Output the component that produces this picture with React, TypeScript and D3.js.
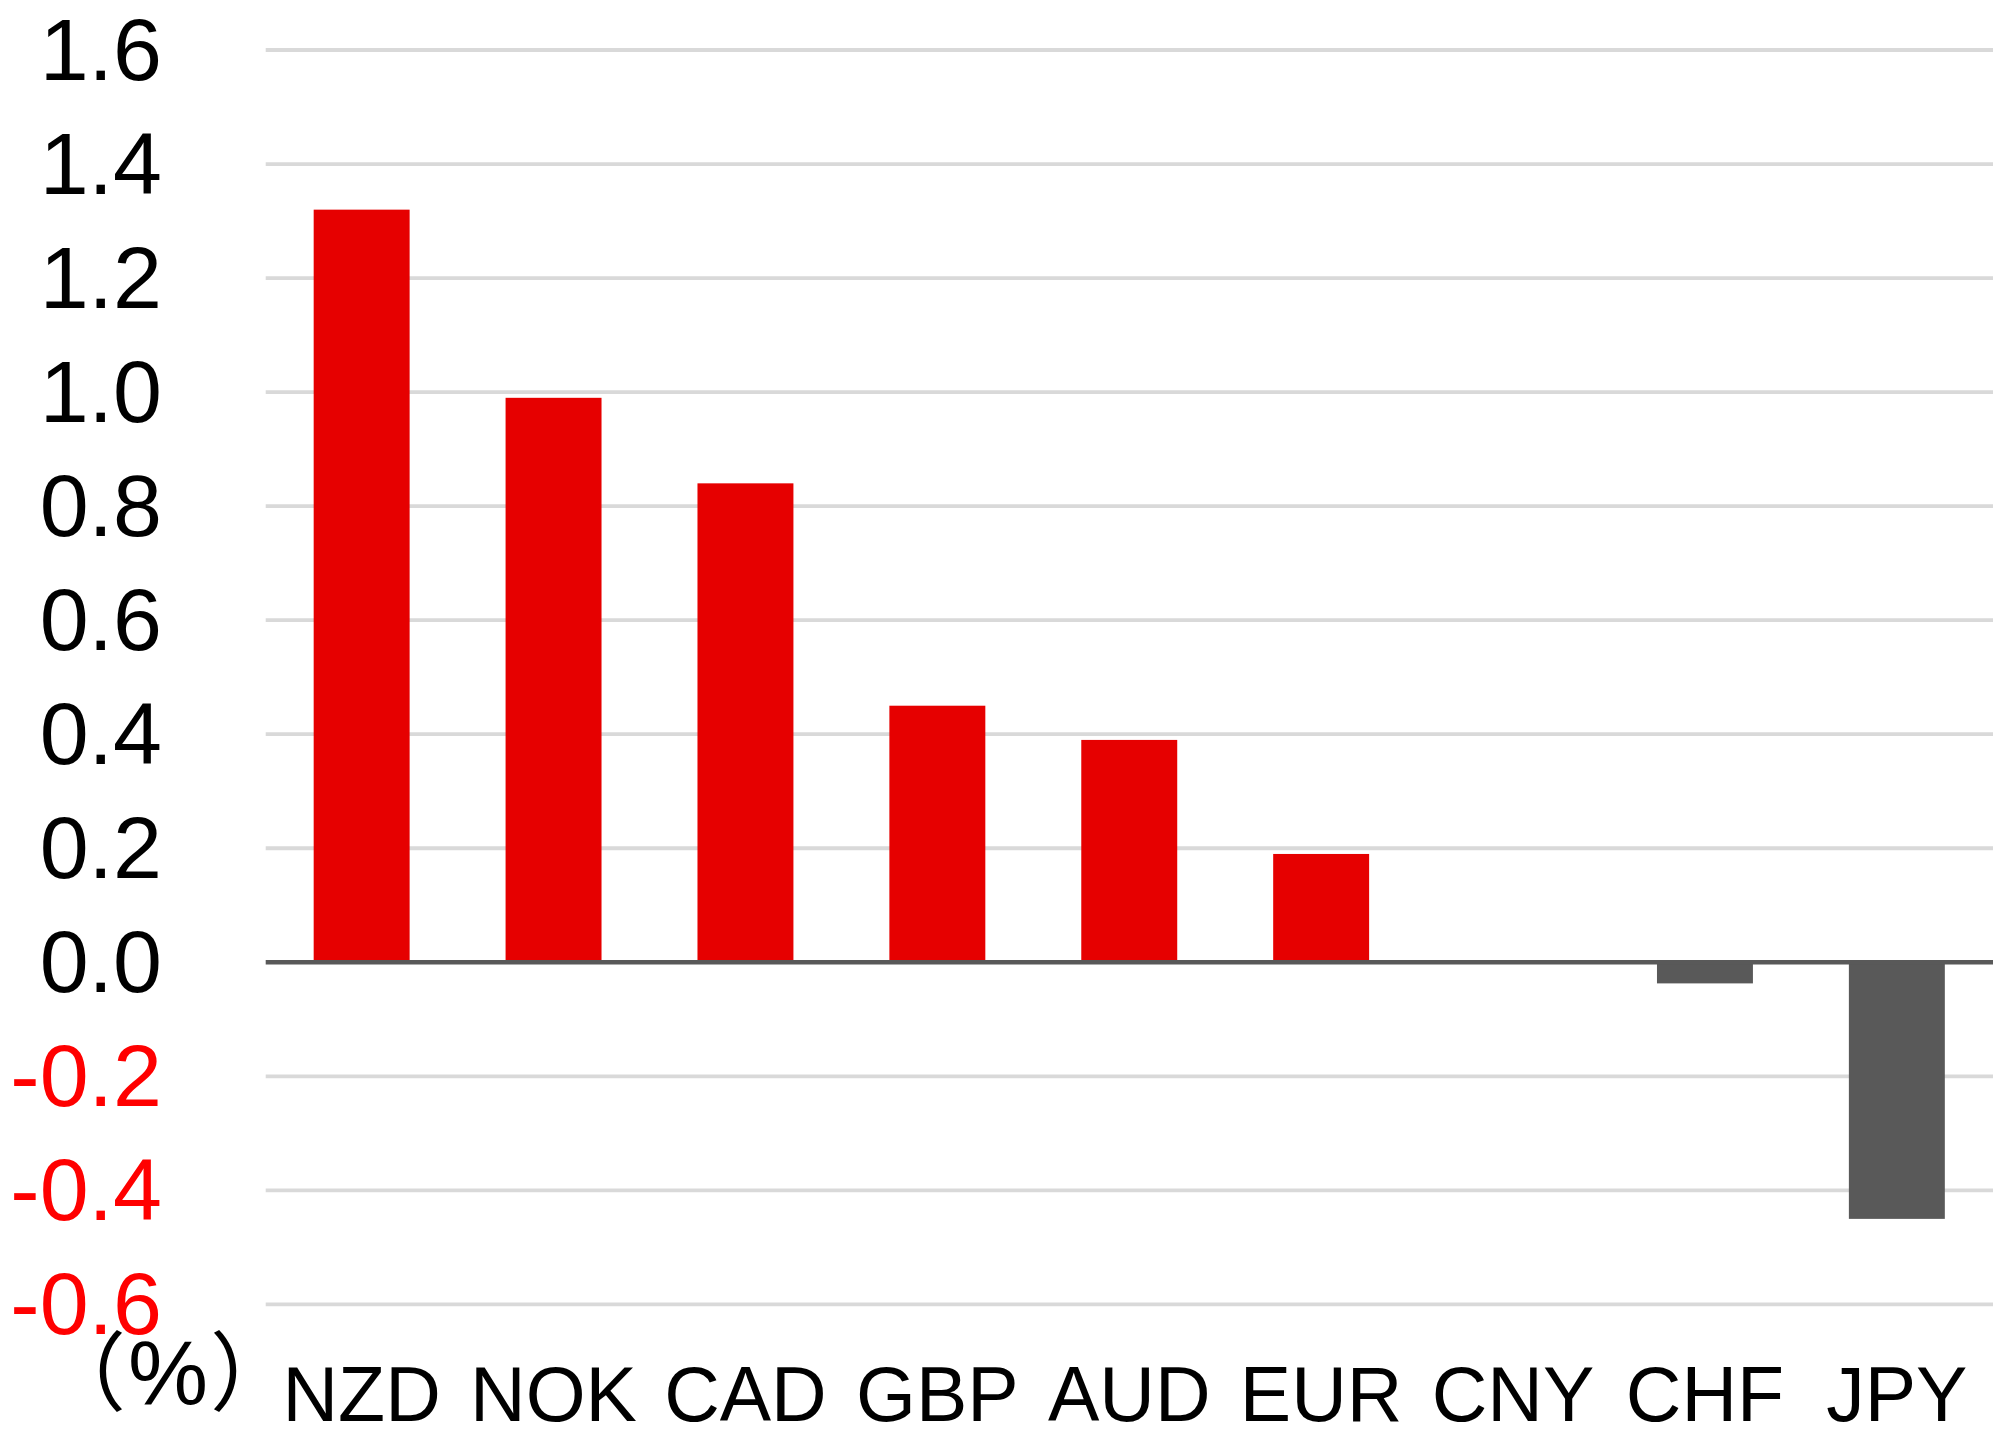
import React, { useEffect, useRef } from 'react';
import * as d3 from 'd3';

// currencies, ordered as in the chart
const currencies = ['NZD', 'NOK', 'CAD', 'GBP', 'AUD', 'EUR', 'CNY', 'CHF', 'JPY'];
// change in %
const changes = [1.32, 0.99, 0.84, 0.45, 0.39, 0.19, 0.0, -0.037, -0.45];
const yTicks = [-0.6, -0.4, -0.2, 0.0, 0.2, 0.4, 0.6, 0.8, 1.0, 1.2, 1.4, 1.6];
const unitParts = ['（', '%', '）'];

const WIDTH = 1993;
const HEIGHT = 1449;

const App: React.FC = () => {
  const svgRef = useRef<SVGSVGElement | null>(null);

  useEffect(() => {
    document.body.style.margin = '0';
    if (!svgRef.current) return;

    const svg = d3.select(svgRef.current);
    svg.selectAll('*').remove();

    const left = 265.7;
    const right = 1992.8;

    const x = d3.scaleBand<string>()
      .domain(currencies)
      .range([left, right])
      .paddingInner(0.5)
      .paddingOuter(0.25);

    const y = d3.scaleLinear().domain([-0.6, 1.6]).range([1304.4, 50]);

    svg.append('rect').attr('width', WIDTH).attr('height', HEIGHT).attr('fill', '#ffffff');

    // gridlines (skip zero, drawn later on top of bars)
    svg.append('g')
      .selectAll('line')
      .data(yTicks.filter(t => t !== 0))
      .enter().append('line')
      .attr('x1', left)
      .attr('x2', WIDTH)
      .attr('y1', d => y(d))
      .attr('y2', d => y(d))
      .attr('stroke', '#d9d9d9')
      .attr('stroke-width', 3.8);

    // y tick labels, negatives in red (plain hyphen, not unicode minus)
    svg.append('g')
      .selectAll('text')
      .data(yTicks)
      .enter().append('text')
      .attr('x', 162)
      .attr('y', d => y(d) + 30)
      .attr('text-anchor', 'end')
      .style('font-family', '"Liberation Sans", Arial, sans-serif')
      .style('font-size', '88px')
      .attr('fill', d => (d < 0 ? '#ff0000' : '#000000'))
      .text(d => d.toFixed(1));

    // bars
    svg.append('g')
      .selectAll('rect')
      .data(changes)
      .enter().append('rect')
      .attr('x', (_d, i) => x(currencies[i])!)
      .attr('width', x.bandwidth())
      .attr('y', d => (d >= 0 ? y(d) : y(0)))
      .attr('height', d => Math.abs(y(d) - y(0)))
      .attr('fill', d => (d >= 0 ? '#e60000' : '#595959'));

    // zero line
    svg.append('line')
      .attr('x1', left)
      .attr('x2', WIDTH)
      .attr('y1', y(0))
      .attr('y2', y(0))
      .attr('stroke', '#595959')
      .attr('stroke-width', 4.6);

    // category labels
    svg.append('g')
      .selectAll('text')
      .data(currencies)
      .enter().append('text')
      .attr('x', d => x(d)! + x.bandwidth() / 2)
      .attr('y', 1421)
      .attr('text-anchor', 'middle')
      .style('font-family', '"Liberation Sans", Arial, sans-serif')
      .style('font-size', '77px')
      .attr('fill', '#000000')
      .text(d => d);

    // unit label: full-width parens, Arial-like percent sign
    const unit = svg.append('text')
      .attr('x', 168)
      .attr('y', 1404)
      .attr('text-anchor', 'middle')
      .attr('fill', '#000000')
      .style('font-size', '86px');
    unitParts.forEach((p, i) => {
      unit.append('tspan')
        .style('font-family', i === 1 ? '"Liberation Sans", Arial, sans-serif' : '"Noto Sans CJK JP", sans-serif')
        .style('font-size', i === 1 ? '90px' : '86px')
        .attr('dx', i === 0 ? 0 : 2)
        .text(p);
    });
  }, []);

  return <svg ref={svgRef} width={WIDTH} height={HEIGHT} style={{ display: 'block' }}></svg>;
};

export default App;
